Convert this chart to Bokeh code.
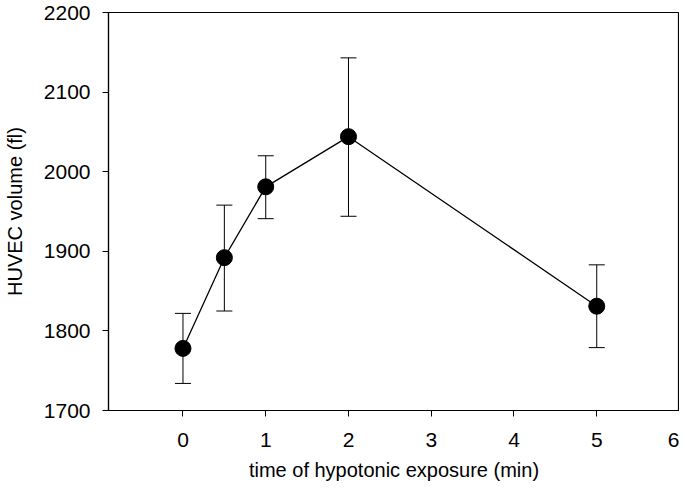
from bokeh.plotting import figure
from bokeh.models import ColumnDataSource, Whisker, FixedTicker, Range1d, TeeHead
from bokeh.embed import file_html
from bokeh.resources import INLINE

time_min = [0, 0.5, 1, 2, 5]
volume_fl = [1778, 1892, 1981, 2044, 1831]
err_low = [1734, 1825, 1941, 1944, 1779]
err_high = [1822, 1958, 2020, 2143, 1883]
x_ticks = [0, 1, 2, 3, 4, 5, 6]
y_ticks = [1700, 1800, 1900, 2000, 2100, 2200]

FONT = "Liberation Sans"

p = figure(width=679, height=483, output_backend="svg", toolbar_location=None,
           x_range=Range1d(-0.9, 6), y_range=Range1d(1700, 2200),
           min_border_left=104, min_border_right=0, min_border_top=12, min_border_bottom=0)

src = ColumnDataSource(dict(x=time_min, y=volume_fl, lo=err_low, hi=err_high))

p.add_layout(Whisker(source=src, base="x", lower="lo", upper="hi",
                     line_color="black", line_width=1,
                     upper_head=TeeHead(size=16, line_color="black", line_width=1),
                     lower_head=TeeHead(size=16, line_color="black", line_width=1)))

p.line("x", "y", source=src, line_color="black", line_width=1.3)
p.scatter("x", "y", source=src, size=16, fill_color="black", line_color="black")

p.grid.visible = False
p.outline_line_color = "black"
p.outline_line_width = 1.2
p.background_fill_color = "white"
p.border_fill_color = "white"

for ax in (p.xaxis[0], p.yaxis[0]):
    ax.axis_line_color = "black"
    ax.axis_line_width = 1.2
    ax.major_tick_line_color = "black"
    ax.major_tick_in = 0
    ax.major_tick_out = 6
    ax.minor_tick_line_color = None
    ax.major_label_text_font = FONT
    ax.major_label_text_font_size = "21px"
    ax.major_label_text_color = "black"
    ax.axis_label_text_font = FONT
    ax.axis_label_text_font_size = "20px"
    ax.axis_label_text_font_style = "normal"
    ax.axis_label_text_color = "black"

p.xaxis[0].ticker = FixedTicker(ticks=x_ticks)
p.yaxis[0].ticker = FixedTicker(ticks=y_ticks)
p.xaxis[0].major_label_standoff = 16
p.yaxis[0].major_label_standoff = 12
p.xaxis[0].axis_label = "time of hypotonic exposure (min)"
p.yaxis[0].axis_label = "HUVEC volume (fl)"
p.xaxis[0].axis_label_standoff = 9
p.yaxis[0].axis_label_standoff = 15

open("out.html", "w").write(file_html(p, INLINE))
